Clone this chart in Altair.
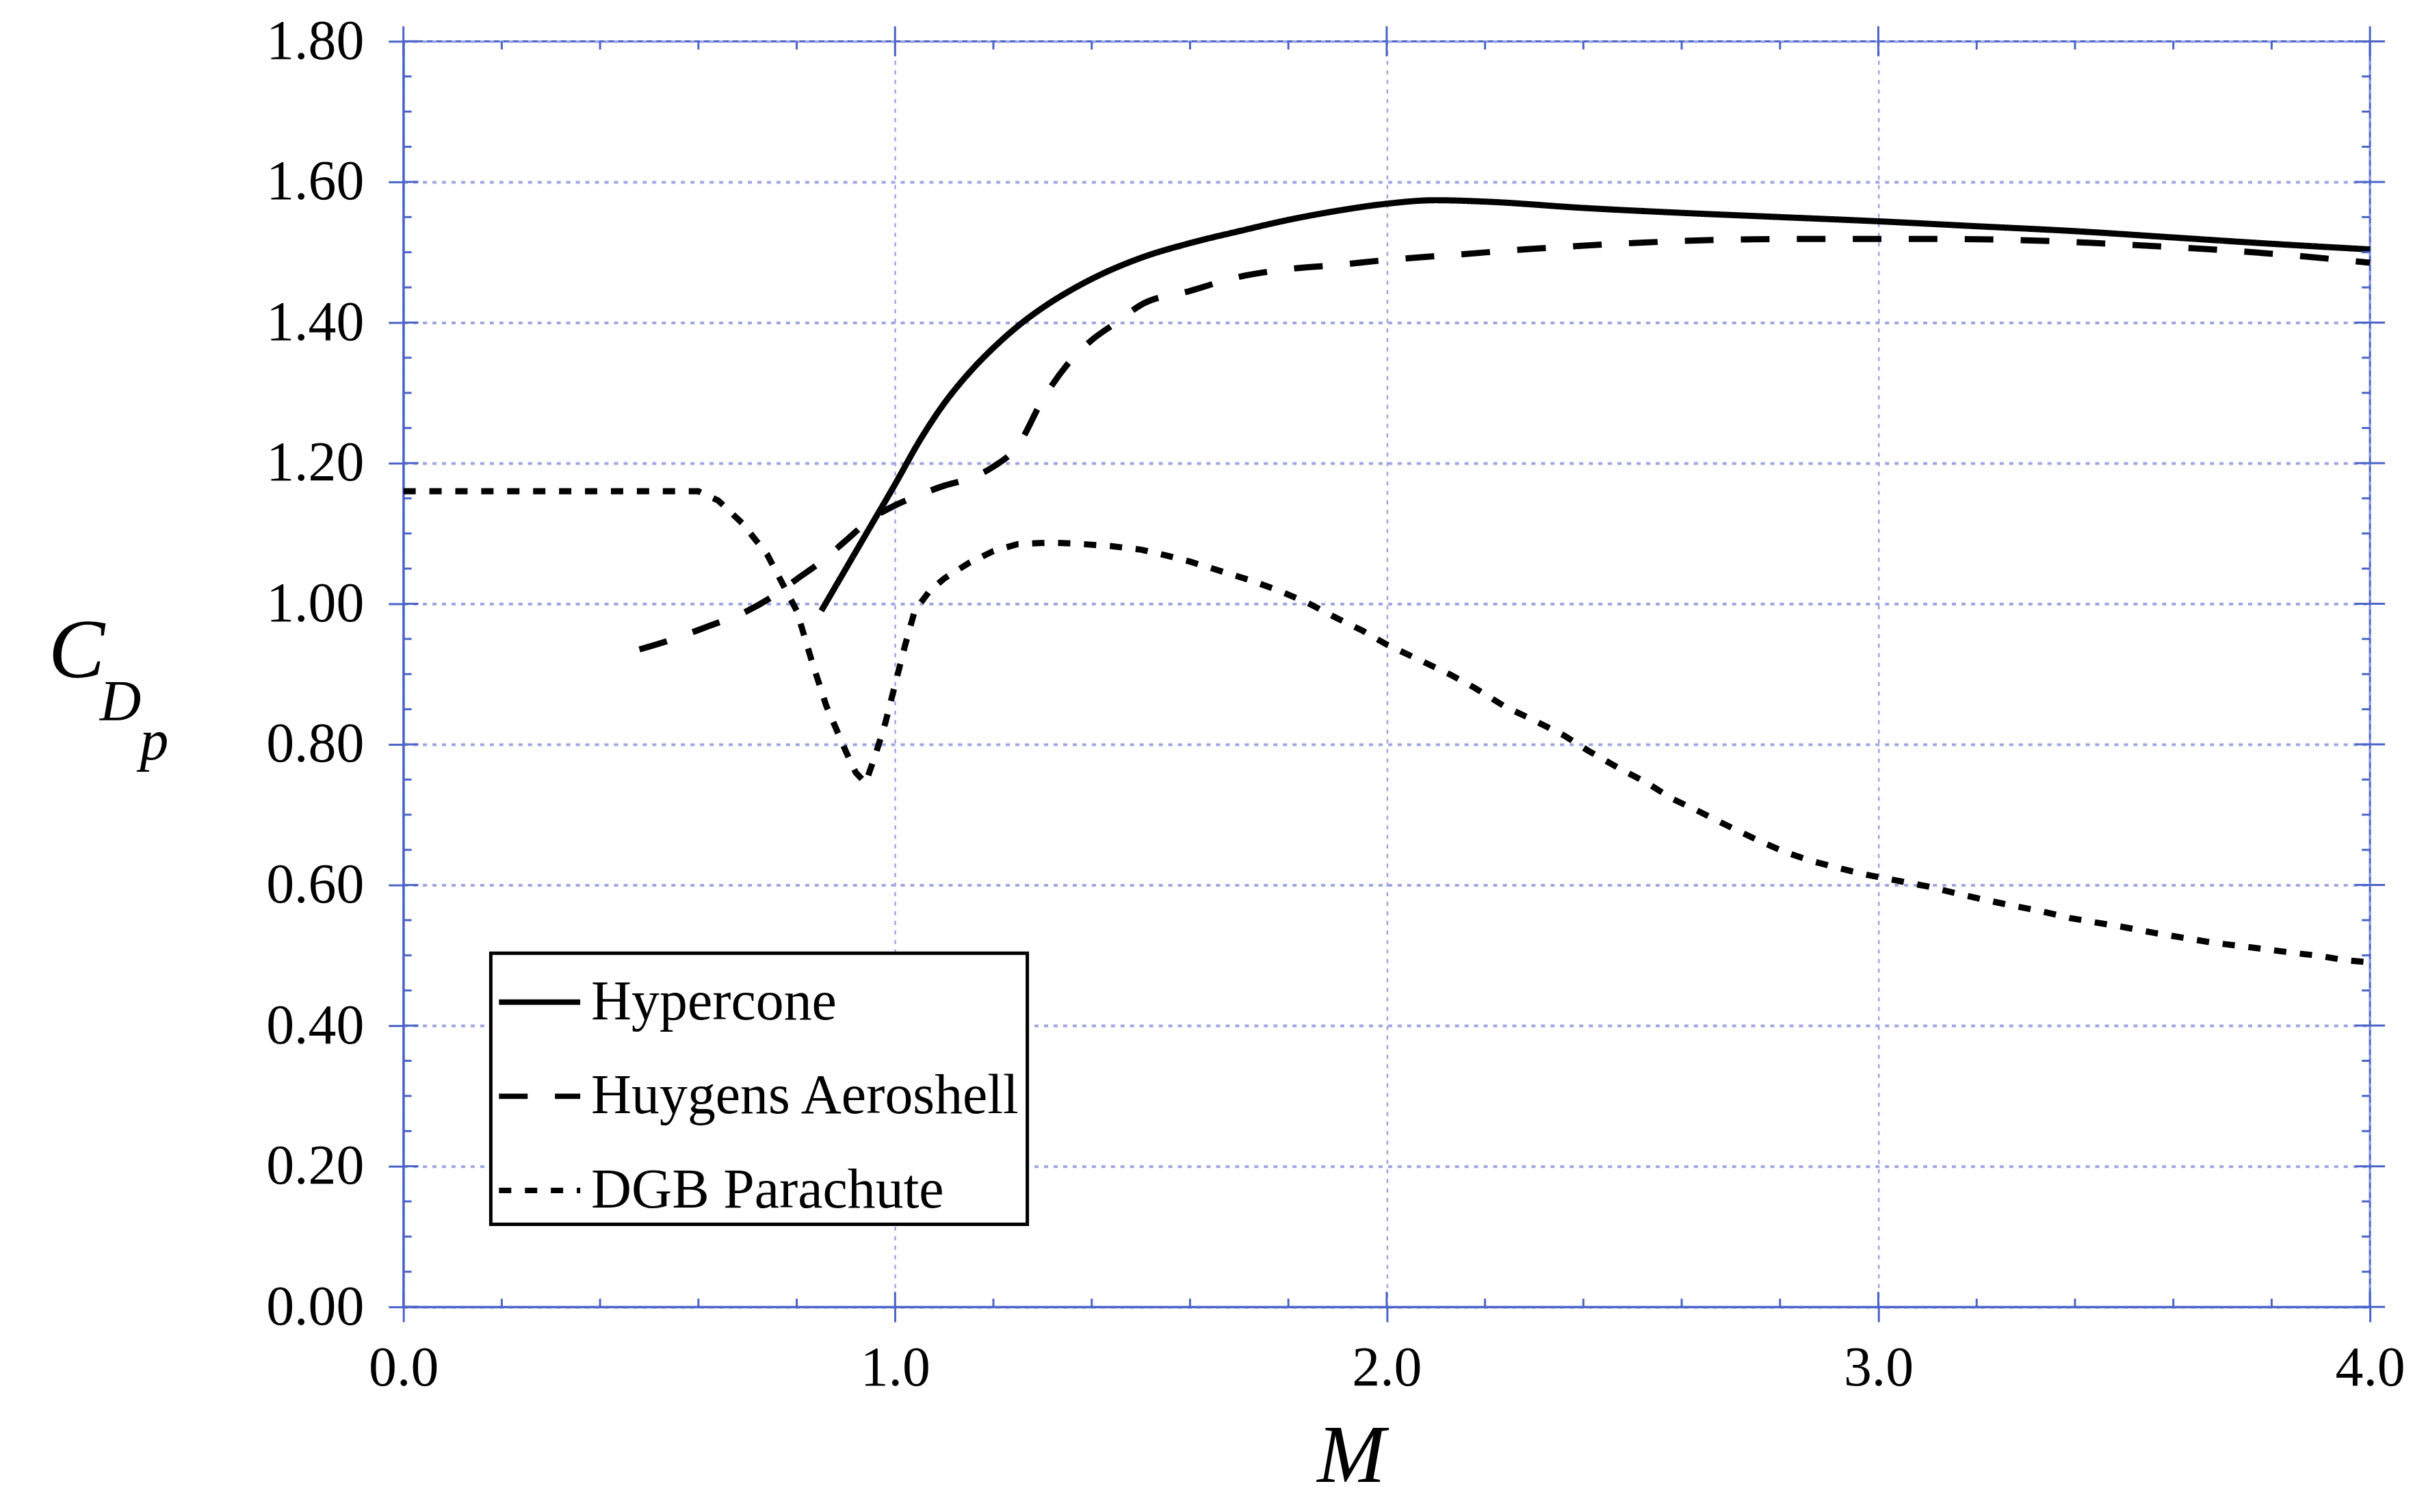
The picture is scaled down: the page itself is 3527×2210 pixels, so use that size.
import altair as alt
import pandas as pd

# ---------------- data ----------------
series_names = ["Hypercone", "Huygens Aeroshell", "DGB Parachute"]

hyper_m = [0.85, 0.90, 0.95, 1.00, 1.05, 1.10, 1.15, 1.20, 1.25, 1.30, 1.35, 1.40,
           1.50, 1.60, 1.70, 1.80, 1.90, 2.00, 2.10, 2.20,
           2.40, 2.60, 2.80, 3.00, 3.20, 3.40, 3.60, 3.80, 4.00]
hyper_cd = [0.99, 1.05, 1.11, 1.17, 1.232, 1.285, 1.328, 1.364, 1.395, 1.421, 1.443, 1.462,
            1.492, 1.513, 1.530, 1.546, 1.559, 1.569, 1.574, 1.572,
            1.563, 1.556, 1.550, 1.544, 1.537, 1.530, 1.521, 1.512, 1.504]

huy_m = [0.48, 0.55, 0.62, 0.70, 0.75, 0.80, 0.85, 0.90, 0.95, 1.00,
         1.05, 1.10, 1.15, 1.20, 1.25, 1.30, 1.35, 1.40, 1.45, 1.50,
         1.60, 1.70, 1.80, 1.90, 2.00, 2.15, 2.30, 2.50, 2.70, 2.90,
         3.10, 3.30, 3.50, 3.70, 3.85, 4.00]
huy_cd = [0.935, 0.95, 0.968, 0.99, 1.01, 1.035, 1.06, 1.09, 1.12, 1.14,
          1.155, 1.168, 1.178, 1.195, 1.225, 1.29, 1.34, 1.375, 1.40, 1.425,
          1.445, 1.465, 1.476, 1.482, 1.489, 1.497, 1.505, 1.513, 1.518, 1.519,
          1.519, 1.517, 1.511, 1.503, 1.495, 1.485]

dgb_m = [0.00, 0.60, 0.64, 0.69, 0.74, 0.77, 0.80, 0.83, 0.86, 0.90,
         0.92, 0.94, 0.96, 0.98, 1.00, 1.02, 1.04, 1.07, 1.10, 1.15,
         1.20, 1.25, 1.32, 1.38, 1.44, 1.50, 1.55, 1.60, 1.66, 1.72,
         1.78, 1.84, 1.90, 1.95, 2.00, 2.07, 2.13, 2.18, 2.24, 2.30,
         2.36, 2.41, 2.47, 2.53, 2.58, 2.64, 2.70, 2.76, 2.81, 2.86,
         2.92, 2.98, 3.04, 3.10, 3.16, 3.21, 3.27, 3.33, 3.39, 3.44,
         3.50, 3.56, 3.62, 3.68, 3.75, 3.85, 3.90, 3.95, 4.00]
dgb_cd = [1.16, 1.16, 1.147, 1.114, 1.07, 1.03, 0.99, 0.92, 0.855, 0.79,
          0.76, 0.745, 0.785, 0.83, 0.885, 0.94, 0.99, 1.018, 1.036, 1.058,
          1.075, 1.085, 1.087, 1.085, 1.082, 1.077, 1.069, 1.060, 1.047, 1.034,
          1.019, 1.001, 0.979, 0.962, 0.942, 0.919, 0.899, 0.880, 0.854, 0.834,
          0.813, 0.791, 0.767, 0.745, 0.723, 0.703, 0.682, 0.662, 0.647, 0.635,
          0.624, 0.614, 0.606, 0.598, 0.588, 0.580, 0.571, 0.563, 0.553, 0.547,
          0.540, 0.532, 0.525, 0.518, 0.512, 0.503, 0.499, 0.493, 0.490]

x_major = [0, 1, 2, 3, 4]
x_minor = [0.2, 0.4, 0.6, 0.8, 1.2, 1.4, 1.6, 1.8, 2.2, 2.4, 2.6, 2.8,
           3.2, 3.4, 3.6, 3.8]
y_major = [0.0, 0.2, 0.4, 0.6, 0.8, 1.0, 1.2, 1.4, 1.6, 1.8]
y_minor = [0.05, 0.10, 0.15, 0.25, 0.30, 0.35, 0.45, 0.50, 0.55, 0.65, 0.70, 0.75,
           0.85, 0.90, 0.95, 1.05, 1.10, 1.15, 1.25, 1.30, 1.35, 1.45, 1.50, 1.55,
           1.65, 1.70, 1.75]

x_title = "M"
y_title_parts = ["C", "D", "p"]

# ---------------- build table ----------------
rows = []
for name, ms, cds in [("Hypercone", hyper_m, hyper_cd),
                      ("Huygens Aeroshell", huy_m, huy_cd),
                      ("DGB Parachute", dgb_m, dgb_cd)]:
    for m, c in zip(ms, cds):
        rows.append({"M": m, "Cd": c, "series": name})
df = pd.DataFrame(rows)

# ---------------- style ----------------
W, H = 2881, 1854
AX = "#4a64c8"
GRID = "#9ea6e2"
FONT = "Liberation Serif"
LBL = 82

x_scale = alt.Scale(domain=[0, 4], nice=False, zero=False)
y_scale = alt.Scale(domain=[0, 1.8], nice=False, zero=False)
dash_scale = alt.Scale(domain=series_names, range=[[1, 0], [42, 40], [18, 20]])

x_axis = alt.Axis(values=x_major, format=".1f", title=x_title,
                  titleFont=FONT, titleFontStyle="italic", titleFontWeight="normal",
                  titleFontSize=120, titleColor="black", titleX=1388, titleY=256,
                  titleAlign="center", titleBaseline="alphabetic",
                  labelFont=FONT, labelFontSize=LBL, labelColor="black",
                  labelPadding=28, labelFlush=False, labelOverlap=False,
                  tickSize=22, tickColor=AX, tickWidth=3,
                  domainColor=AX, domainWidth=3,
                  grid=True, gridColor=GRID, gridDash=[6, 8], gridWidth=2.5)
y_axis = alt.Axis(values=y_major, format=".2f", title=None,
                  labelFont=FONT, labelFontSize=LBL, labelColor="black",
                  labelPadding=36, labelOverlap=False,
                  tickSize=22, tickColor=AX, tickWidth=3,
                  domainColor=AX, domainWidth=3,
                  grid=True, gridColor=GRID, gridDash=[6, 8], gridWidth=4)

legend = alt.Legend(title=None, orient="none", legendX=128, legendY=1336,
                    symbolType="stroke", symbolSize=14161, symbolStrokeWidth=8,
                    symbolStrokeColor="black",
                    labelFont=FONT, labelFontSize=LBL, labelColor="black",
                    labelOffset=12, labelLimit=2000, rowPadding=33, padding=8,
                    fillColor="white", strokeColor="black")

base = alt.Chart(df)
enc = dict(
    x=alt.X("M:Q", scale=x_scale, axis=x_axis),
    y=alt.Y("Cd:Q", scale=y_scale, axis=y_axis),
    strokeDash=alt.StrokeDash("series:N", scale=dash_scale, legend=legend),
)
smooth = base.transform_filter(
    alt.FieldOneOfPredicate(field="series", oneOf=["Hypercone", "Huygens Aeroshell"])
).mark_line(interpolate="monotone", color="black", strokeWidth=9).encode(**enc)
chute = base.transform_filter(
    alt.FieldEqualPredicate(field="series", equal="DGB Parachute")
).mark_line(interpolate="linear", color="black", strokeWidth=9).encode(**enc)


def xticks(vals, y, y2, w=3):
    return alt.Chart(pd.DataFrame({"M": vals})).mark_rule(color=AX, strokeWidth=w).encode(
        x=alt.X("M:Q", scale=x_scale, axis=x_axis), y=alt.value(y), y2=alt.value(y2))


def yticks(vals, x, x2, w=3):
    return alt.Chart(pd.DataFrame({"Cd": vals})).mark_rule(color=AX, strokeWidth=w).encode(
        y=alt.Y("Cd:Q", scale=y_scale, axis=y_axis), x=alt.value(x), x2=alt.value(x2))


tick_layers = [
    xticks(x_minor, H, H - 12), xticks(x_major, H, H - 22),
    xticks(x_minor, 0, 12), xticks(x_major, -22, 22),
    yticks(y_minor, 0, 12), yticks(y_major, 0, 22),
    yticks(y_minor, W, W - 12), yticks(y_major, W - 22, W + 22),
]


def title_part(txt, size, x, y):
    return alt.Chart(pd.DataFrame({"t": [txt]})).mark_text(
        font=FONT, fontStyle="italic", fontSize=size, align="left",
        baseline="alphabetic", color="black").encode(
        text="t:N", x=alt.value(x), y=alt.value(y))


title_layers = [
    title_part(y_title_parts[0], 124, -520, 932),
    title_part(y_title_parts[1], 84, -445, 995),
    title_part(y_title_parts[2], 84, -386, 1052),
]

chart = alt.layer(smooth, chute, *tick_layers, *title_layers).properties(
    width=W, height=H,
    autosize=alt.AutoSizeParams(type="none"),
    padding={"left": 583, "top": 50, "right": 55, "bottom": 290},
).configure_view(stroke=AX, strokeWidth=3).configure_legend(strokeWidth=5)

chart.save("out.html", embed_options={"renderer": "svg", "actions": False})
